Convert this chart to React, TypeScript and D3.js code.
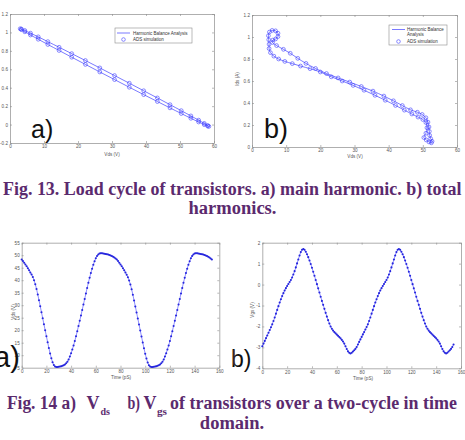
import React, { useEffect, useRef } from "react";
import * as d3 from "d3";

// Fig. 13 a) load cycle, main harmonic only (Vds in V, Ids in A)
const mainVds = [58.5, 58.16, 57.14, 55.48, 53.2, 50.37, 47.06, 43.35, 39.32, 35.09, 30.75, 26.41, 22.18, 18.15, 14.44, 11.13, 8.3, 6.02, 4.36, 3.34, 3.0, 3.34, 4.36, 6.02, 8.3, 11.13, 14.44, 18.15, 22.18, 26.41, 30.75, 35.09, 39.32, 43.35, 47.06, 50.37, 53.2, 55.48, 57.14, 58.16];
const mainIds = [-0.02, -0.01, 0.013, 0.048, 0.094, 0.151, 0.216, 0.289, 0.367, 0.449, 0.532, 0.615, 0.695, 0.77, 0.839, 0.9, 0.952, 0.992, 1.021, 1.037, 1.04, 1.03, 1.007, 0.972, 0.926, 0.869, 0.804, 0.731, 0.653, 0.571, 0.488, 0.405, 0.325, 0.25, 0.181, 0.12, 0.068, 0.028, -0.001, -0.017];

// Fig. 13 b) load cycle with all harmonics
const totalVds = [6.0, 7.2, 9.2, 11.2, 13.4, 15.8, 18.6, 21.8, 25.2, 28.6, 32.0, 35.4, 38.6, 41.4, 44.0, 46.4, 48.4, 49.8, 50.9, 51.5, 51.8, 51.9, 52.0, 52.3, 52.7, 52.5, 51.8, 51.0, 50.3, 50.9, 51.2, 50.9, 50.0, 48.6, 46.8, 44.6, 42.0, 39.0, 36.0, 32.8, 29.6, 26.4, 23.2, 20.0, 17.0, 14.2, 11.8, 9.6, 7.8, 6.4, 5.4, 5.0, 5.0, 4.9, 4.8, 5.1, 5.9, 6.9, 7.6, 7.6, 6.9, 6.1];
const totalIds = [0.95, 0.922, 0.888, 0.852, 0.806, 0.76, 0.714, 0.668, 0.628, 0.59, 0.55, 0.508, 0.463, 0.42, 0.377, 0.338, 0.316, 0.296, 0.266, 0.226, 0.182, 0.142, 0.106, 0.076, 0.052, 0.038, 0.046, 0.064, 0.086, 0.125, 0.175, 0.222, 0.25, 0.272, 0.3, 0.335, 0.378, 0.425, 0.47, 0.516, 0.56, 0.6, 0.638, 0.682, 0.712, 0.736, 0.758, 0.778, 0.8, 0.826, 0.858, 0.895, 0.935, 0.975, 1.012, 1.045, 1.06, 1.056, 1.034, 1.004, 0.982, 0.972];

// Fig. 14 waveforms, one sample per pS
const sampleStepPs = 1;
const vdsWave = [
  48.3, 47.7, 47.0, 46.3, 45.6, 44.8, 44.0, 43.1, 42.3, 41.3, 40.0, 38.4, 36.5, 34.3, 32.0, 29.6, 27.2, 24.8, 22.4, 20.0,
  17.6, 15.2, 12.9, 10.7, 8.8, 7.2, 6.1, 5.5, 5.3, 5.3, 5.4, 5.5, 5.6, 5.8, 6.0, 6.3, 6.8, 7.4, 8.3, 9.5,
  10.8, 12.3, 13.9, 15.7, 17.6, 19.6, 21.7, 23.8, 25.9, 28.1, 30.3, 32.5, 34.7, 36.9, 39.0, 41.0, 42.9, 44.6, 46.2, 47.6,
  48.8, 49.7, 50.3, 50.7, 50.8, 50.8, 50.7, 50.6, 50.5, 50.4, 50.3, 50.1, 49.9, 49.7, 49.4, 49.1, 48.7,
  48.3, 47.7, 47.0, 46.3, 45.6, 44.8, 44.0, 43.1, 42.2, 41.2, 39.9, 38.3, 36.4, 34.2, 31.9, 29.5, 27.1, 24.7, 22.3, 19.9,
  17.5, 15.1, 12.8, 10.6, 8.7, 7.1, 6.0, 5.5, 5.3, 5.3, 5.4, 5.5, 5.6, 5.8, 6.0, 6.3, 6.8, 7.4, 8.3, 9.5,
  10.8, 12.3, 13.9, 15.7, 17.6, 19.6, 21.7, 23.8, 25.9, 28.1, 30.3, 32.5, 34.7, 36.9, 39.0, 41.0, 42.9, 44.6, 46.2, 47.6,
  48.8, 49.7, 50.3, 50.7, 50.8, 50.8, 50.7, 50.6, 50.5, 50.4, 50.3, 50.1, 49.9, 49.7, 49.4, 49.1, 48.7, 48.3,
];
const vgsWave = [
  -2.95, -2.82, -2.69, -2.56, -2.43, -2.3, -2.17, -2.04, -1.9, -1.74, -1.57, -1.39, -1.21, -1.03, -0.86, -0.7, -0.55, -0.41, -0.28, -0.17,
  -0.07, 0.03, 0.12, 0.22, 0.34, 0.48, 0.64, 0.82, 1.01, 1.2, 1.39, 1.55, 1.66, 1.7, 1.66, 1.57, 1.45, 1.31, 1.15, 0.98,
  0.8, 0.61, 0.42, 0.22, 0.02, -0.18, -0.38, -0.58, -0.78, -0.97, -1.16, -1.35, -1.53, -1.7, -1.86, -2.0, -2.11, -2.2, -2.27, -2.33,
  -2.39, -2.45, -2.51, -2.57, -2.64, -2.72, -2.82, -2.95, -3.08, -3.19, -3.26, -3.29, -3.26, -3.2, -3.14, -3.07, -2.98,
  -2.86, -2.74, -2.62, -2.5, -2.38, -2.27, -2.15, -2.03, -1.9, -1.74, -1.57, -1.39, -1.21, -1.03, -0.86, -0.7, -0.55, -0.41, -0.28, -0.17,
  -0.07, 0.03, 0.12, 0.22, 0.34, 0.48, 0.64, 0.82, 1.01, 1.2, 1.39, 1.55, 1.66, 1.7, 1.66, 1.57, 1.45, 1.31, 1.15, 0.98,
  0.8, 0.61, 0.42, 0.22, 0.02, -0.18, -0.38, -0.58, -0.78, -0.97, -1.16, -1.35, -1.53, -1.7, -1.86, -2.0, -2.11, -2.2, -2.27, -2.33,
  -2.39, -2.45, -2.51, -2.57, -2.64, -2.72, -2.82, -2.95, -3.08, -3.19, -3.26, -3.29, -3.26, -3.2, -3.14, -3.07, -2.98, -2.86,
];

// axis ticks
const vdsTicks = [0, 10, 20, 30, 40, 50, 60];
const mainIdsTicks = [-0.2, 0, 0.2, 0.4, 0.6, 0.8, 1, 1.2];
const totalIdsTicks = [0, 0.2, 0.4, 0.6, 0.8, 1, 1.2];
const timeTicks = [0, 20, 40, 60, 80, 100, 120, 140, 160];
const vdsWaveTicks = [5, 10, 15, 20, 25, 30, 35, 40, 45, 50, 55];
const vgsWaveTicks = [-4, -3, -2, -1, 0, 1, 2];

const legendLabels = ["Harmonic Balance Analysis", "ADS simulation"];

const SANS = "'Liberation Sans', Arial, sans-serif";
const SERIF = "'Liberation Serif', 'Times New Roman', serif";
const CAPTION = "#5b2a6e";
const LINE = "#4040ff";
const AXIS = "#8c8c8c";

type Box = { left: number; right: number; top: number; bottom: number };
type Sel = d3.Selection<SVGSVGElement, unknown, null, undefined>;

const fmt = (v: number) => String(+v.toFixed(1));

function frame(svg: Sel, box: Box, xDomain: number[], yDomain: number[], xTicks: number[], yTicks: number[]) {
  const x = d3.scaleLinear().domain(xDomain).range([box.left, box.right]);
  const y = d3.scaleLinear().domain(yDomain).range([box.bottom, box.top]);

  const style = (g: any) => {
    g.select(".domain").attr("stroke", AXIS).attr("stroke-width", 0.7);
    g.selectAll(".tick line").attr("stroke", AXIS).attr("stroke-width", 0.6);
    g.selectAll(".tick text").attr("font-family", SANS).attr("font-size", 4.6).attr("fill", "#555");
  };

  // MATLAB style box: inward ticks on all four sides, labels on bottom/left only
  svg.append("g").attr("transform", `translate(0,${box.bottom})`)
    .call(d3.axisBottom(x).tickValues(xTicks).tickSize(-2).tickSizeOuter(0).tickPadding(2.2).tickFormat((d) => fmt(+d)))
    .call(style);
  svg.append("g").attr("transform", `translate(0,${box.top})`)
    .call(d3.axisTop(x).tickValues(xTicks).tickSize(-2).tickSizeOuter(0).tickFormat(() => ""))
    .call(style);
  svg.append("g").attr("transform", `translate(${box.left},0)`)
    .call(d3.axisLeft(y).tickValues(yTicks).tickSize(-2).tickSizeOuter(0).tickPadding(2).tickFormat((d) => fmt(+d)))
    .call(style);
  svg.append("g").attr("transform", `translate(${box.right},0)`)
    .call(d3.axisRight(y).tickValues(yTicks).tickSize(-2).tickSizeOuter(0).tickFormat(() => ""))
    .call(style);

  return { x, y };
}

function axisTitle(svg: Sel, text: string, x: number, y: number, rotate = false) {
  svg.append("text")
    .attr("transform", rotate ? `translate(${x},${y}) rotate(-90)` : `translate(${x},${y})`)
    .attr("text-anchor", "middle")
    .attr("font-family", SANS)
    .attr("font-size", 4.6)
    .attr("fill", "#555")
    .text(text);
}

function bigLabel(svg: Sel, text: string, x: number, y: number, size: number) {
  svg.append("text").attr("x", x).attr("y", y)
    .attr("font-family", SANS).attr("font-size", size).attr("fill", "#111").text(text);
}

function loadCycle(svg: Sel, x: d3.ScaleLinear<number, number>, y: d3.ScaleLinear<number, number>, vds: number[], ids: number[]) {
  const pts = d3.zip(vds, ids);
  const line = d3.line<number[]>().x((d) => x(d[0])).y((d) => y(d[1])).curve(d3.curveCatmullRomClosed);
  svg.append("path").datum(pts).attr("d", line).attr("fill", "none").attr("stroke", LINE).attr("stroke-width", 0.7);
  svg.append("g").selectAll("circle").data(pts).join("circle")
    .attr("cx", (d) => x(d[0])).attr("cy", (d) => y(d[1])).attr("r", 1.9)
    .attr("fill", "none").attr("stroke", LINE).attr("stroke-width", 0.6);
}

function waveform(svg: Sel, x: d3.ScaleLinear<number, number>, y: d3.ScaleLinear<number, number>, values: number[]) {
  const pts = values.map((v, i) => [i * sampleStepPs, v]);
  const line = d3.line<number[]>().x((d) => x(d[0])).y((d) => y(d[1]));
  svg.append("path").datum(pts).attr("d", line).attr("fill", "none").attr("stroke", "#7070ff").attr("stroke-width", 0.8);
  svg.append("g").selectAll("circle").data(pts).join("circle")
    .attr("cx", (d) => x(d[0])).attr("cy", (d) => y(d[1])).attr("r", 1.05).attr("fill", "#2626dd");
}

function legend(svg: Sel, box: Box, rows: { text: string[]; y: number }[], lineX: [number, number], textX: number) {
  svg.append("rect").attr("x", box.left).attr("y", box.top)
    .attr("width", box.right - box.left).attr("height", box.bottom - box.top)
    .attr("fill", "#fff").attr("stroke", AXIS).attr("stroke-width", 0.6);
  svg.append("line").attr("x1", lineX[0]).attr("x2", lineX[1]).attr("y1", rows[0].y).attr("y2", rows[0].y)
    .attr("stroke", LINE).attr("stroke-width", 0.7);
  svg.append("circle").attr("cx", (lineX[0] + lineX[1]) / 2).attr("cy", rows[1].y).attr("r", 1.8)
    .attr("fill", "none").attr("stroke", LINE).attr("stroke-width", 0.6);
  rows.forEach((r) => {
    r.text.forEach((t, i) => {
      svg.append("text").attr("x", textX).attr("y", r.y + 1.5 + i * 5)
        .attr("font-family", SANS).attr("font-size", 4.5).attr("fill", "#333").text(t);
    });
  });
}

export default function App() {
  const ref = useRef<SVGSVGElement | null>(null);

  useEffect(() => {
    const svg = d3.select(ref.current!) as Sel;
    svg.selectAll("*").remove();

    // ---- Fig. 13 a)
    const boxA = { left: 10, right: 214, top: 14, bottom: 143 };
    const a = frame(svg, boxA, [0, 60], [-0.2, 1.2], vdsTicks, mainIdsTicks);
    axisTitle(svg, "Vds (V)", 112, 156);
    loadCycle(svg, a.x, a.y, mainVds, mainIds);
    legend(svg, { left: 115, right: 192, top: 28, bottom: 43 },
      [{ text: [legendLabels[0]], y: 33 }, { text: [legendLabels[1]], y: 39.5 }], [117, 130], 133);
    bigLabel(svg, "a)", 31, 138, 25);

    // ---- Fig. 13 b)
    const boxB = { left: 252, right: 457, top: 15, bottom: 147 };
    const b = frame(svg, boxB, [0, 60], [0, 1.2], vdsTicks, totalIdsTicks);
    axisTitle(svg, "Vds (V)", 355, 158);
    axisTitle(svg, "Ids (A)", 239, 79, true);
    loadCycle(svg, b.x, b.y, totalVds, totalIds);
    legend(svg, { left: 389, right: 447, top: 25, bottom: 45 },
      [{ text: ["Harmonic Balance", "Analysis"], y: 29.5 }, { text: [legendLabels[1]], y: 41.5 }], [392, 405], 407);
    bigLabel(svg, "b)", 264, 137.5, 27);

    // ---- Fig. 14 a) Vds(t)
    const boxC = { left: 21.7, right: 219.3, top: 242.7, bottom: 367.7 };
    const c = frame(svg, boxC, [0, 160], [5, 55], timeTicks, vdsWaveTicks);
    axisTitle(svg, "Time (pS)", 121, 379);
    axisTitle(svg, "Vds (V)", 14.5, 312, true);
    waveform(svg, c.x, c.y, vdsWave);
    bigLabel(svg, "a)", -6, 367, 29);

    // ---- Fig. 14 b) Vgs(t)
    const boxD = { left: 262.3, right: 461, top: 242.7, bottom: 368.3 };
    const dd = frame(svg, boxD, [0, 160], [-4, 2], timeTicks, vgsWaveTicks);
    axisTitle(svg, "Time (pS)", 363, 380);
    axisTitle(svg, "Vgs (V)", 253.5, 310, true);
    waveform(svg, dd.x, dd.y, vgsWave);
    bigLabel(svg, "b)", 231, 367, 23);
    svg.append("line").attr("x1", 234).attr("x2", 234).attr("y1", 350).attr("y2", 365)
      .attr("stroke", "#7a4040").attr("stroke-width", 0.8);

    // ---- captions
    const cap = (t: string, x: number, y: number, len?: number, size = 18.5, anchor = "start") => {
      const el = svg.append("text").attr("x", x).attr("y", y).attr("text-anchor", anchor)
        .attr("font-family", SERIF).attr("font-weight", "bold").attr("font-size", size)
        .attr("fill", CAPTION).text(t);
      if (len) el.attr("textLength", len).attr("lengthAdjust", "spacingAndGlyphs");
    };
    cap("Fig. 13. Load cycle of transistors. a) main harmonic. b) total", 3, 195, 458.5);
    cap("harmonics.", 232.5, 214, undefined, 18.5, "middle");

    cap("Fig. 14 a)", 7, 409, 69);
    cap("V", 86.5, 409, 13);
    cap("ds", 100.5, 414.5, 9.5, 10.5);
    cap("b)", 127.5, 409, 12.5);
    cap("V", 143.5, 409, 13);
    cap("gs", 157, 414.5, 10, 10.5);
    cap("of transistors over a two-cycle in time", 170, 409, 287);
    cap("domain.", 232, 429, undefined, 18.5, "middle");
  }, []);

  return (
    <svg ref={ref} width={465} height={440}
      style={{ position: "absolute", left: 0, top: 0, background: "#fff" }} />
  );
}
